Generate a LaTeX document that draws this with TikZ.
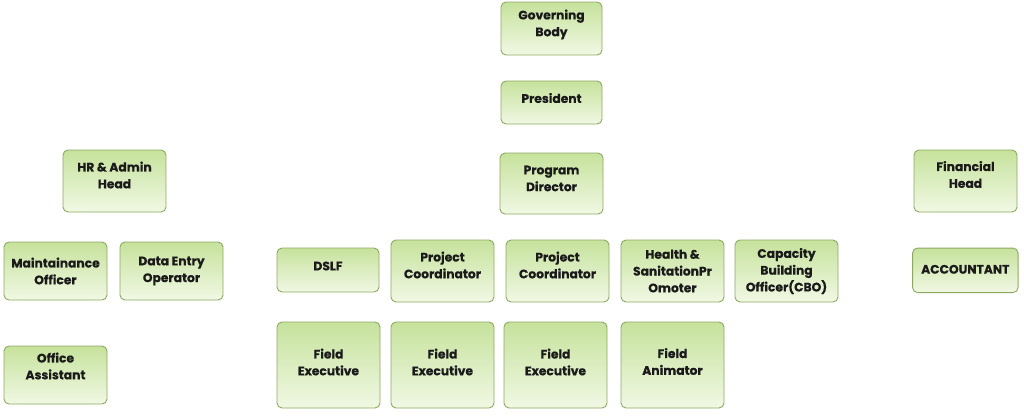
\documentclass[tikz,border=0pt]{standalone}
\usepackage{fontspec}
\setmainfont{Poppins}[UprightFont=* Bold, BoldFont=* Bold, UprightFeatures={FakeBold=0.4}]
\definecolor{boxtop}{HTML}{C6E29C}
\definecolor{boxbot}{HTML}{F1F8E4}
\definecolor{boxedge}{HTML}{8DA862}
\definecolor{boxtext}{HTML}{1A1A1A}
\tikzset{
  orgbox/.style={draw=boxedge, line width=0.9pt, rounded corners=5pt,
    top color=boxtop, bottom color=boxbot, inner sep=0pt},
  orglabel/.style={align=center, inner sep=0pt, text=boxtext,
    font=\fontsize{12.3}{16.8}\selectfont},
}
\newcommand{\orgnode}[7]{%
  \node[orgbox, minimum width=#4, minimum height=#5] (#1) at (#2,#3) {};
  \node[orglabel] (#1-text) at ([yshift=#6pt]#1.center) {#7};}
\begin{document}
\begin{tikzpicture}[x=1pt,y=-1pt]
\useasboundingbox (0,0) rectangle (1024,415);
\orgnode{gb}{551.5}{28.5}{101}{53}{4}{Governing\\Body}
\orgnode{pres}{551.5}{102.5}{101}{43}{4.5}{President}
\orgnode{pd}{551.5}{183.5}{103}{61}{5}{Program\\Director}
\orgnode{hr}{114.5}{181}{103}{62}{6}{HR \& Admin\\Head}
\orgnode{fh}{965.5}{181}{103}{62}{6.5}{Financial\\Head}
\orgnode{mo}{55.5}{271}{103}{58}{0}{Maintainance\\Officer}
\orgnode{deo}{171.5}{271}{103}{58}{0}{Data Entry\\Operator}
\orgnode{oa}{55.5}{375}{103}{58}{9}{Office\\Assistant}
\orgnode{dslf}{328}{270}{102}{44}{4}{DSLF}
\orgnode{pc1}{442.5}{271}{103}{62}{6}{Project\\Coordinator}
\orgnode{pc2}{557.5}{271}{103}{62}{6}{Project\\Coordinator}
\orgnode{hs}{672.5}{271}{103}{62}{0}{Health \&\\SanitationPr\\Omoter}
\orgnode{cbo}{786.5}{271}{103}{62}{0}{Capacity\\Building\\Officer(CBO)}
\orgnode{acc}{965.3}{270.3}{105.5}{44.5}{1}{ACCOUNTANT}
\orgnode{fe1}{328.5}{365}{103}{86}{3}{Field\\Executive}
\orgnode{fe2}{442.5}{365}{103}{86}{3}{Field\\Executive}
\orgnode{fe3}{555.5}{365}{103}{86}{3}{Field\\Executive}
\orgnode{fa}{672.5}{365}{103}{86}{3.5}{Field\\Animator}
\end{tikzpicture}
\end{document}
